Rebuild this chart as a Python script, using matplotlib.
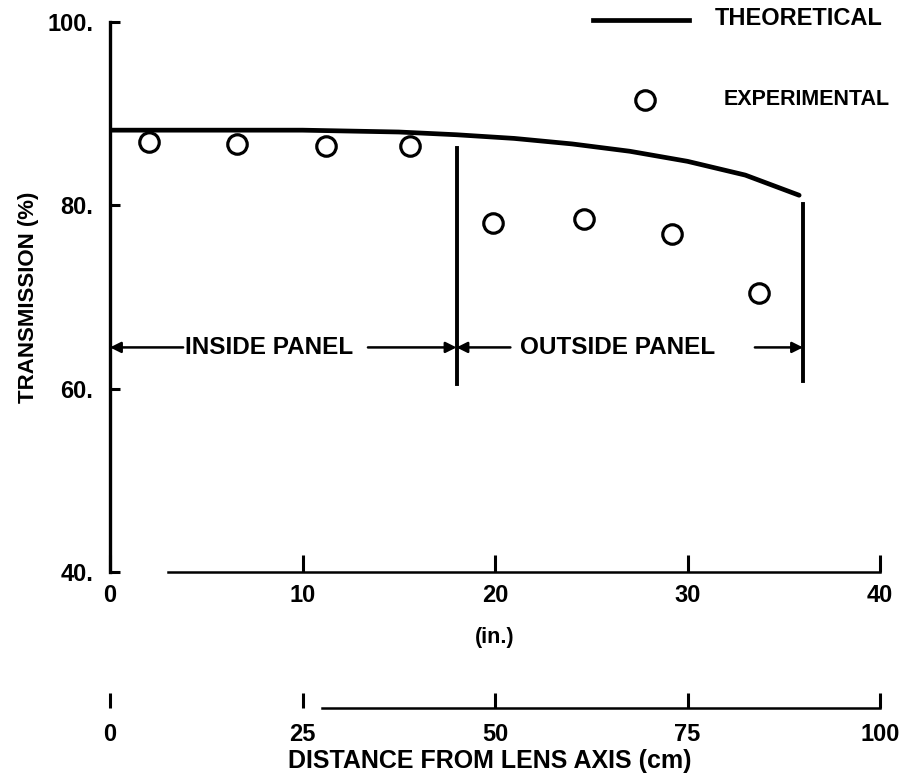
import numpy as np
import matplotlib
matplotlib.use("Agg")
import matplotlib.pyplot as plt

plt.rcParams['font.family'] = ['Liberation Sans', 'DejaVu Sans']
plt.rcParams['font.weight'] = 'bold'

# theoretical transmission curve, x in inches
theory_x = [0, 5, 10, 15, 18, 21, 24, 27, 30, 33, 35.8]
theory_y = [88.2, 88.2, 88.2, 88.0, 87.7, 87.3, 86.7, 85.9, 84.8, 83.3, 81.1]

# experimental points
exp_x = [2.0, 6.6, 11.2, 15.6, 19.9, 24.6, 29.2, 33.7]
exp_y = [86.9, 86.7, 86.5, 86.5, 78.1, 78.5, 76.9, 70.4]

in_ticks = [0, 10, 20, 30, 40]
cm_ticks = [0, 25, 50, 75, 100]
y_ticks = [40, 60, 80, 100]
y_labels = ['40.', '60.', '80.', '100.']

fig = plt.figure(figsize=(9.1, 7.81), dpi=100)
ax = fig.add_axes([110/910, 1 - 572/781, 770/910, 550/781])
ax.set_xlim(0, 40)
ax.set_ylim(40, 100)
ax.patch.set_visible(False)

for s in ['top', 'right']:
    ax.spines[s].set_visible(False)
ax.spines['left'].set_linewidth(2.4)
ax.spines['bottom'].set_linewidth(1.8)
ax.spines['bottom'].set_bounds(3, 40)

ax.set_xticks(in_ticks)
ax.set_xticklabels([str(t) for t in in_ticks])
ax.set_yticks(y_ticks)
ax.set_yticklabels(y_labels)
ax.tick_params(axis='x', direction='in', length=12, width=2.2, pad=9, labelsize=17)
ax.tick_params(axis='y', direction='in', length=7, width=2.2, pad=12, labelsize=17)

# theoretical curve + experimental points
ax.plot(theory_x, theory_y, color='black', lw=3.4, solid_capstyle='round')
ax.plot(exp_x, exp_y, 'o', ms=14, mfc='white', mec='black', mew=2.3, ls='none')

# panel boundaries
ax.plot([18, 18], [60.5, 86.3], color='black', lw=2.8)
ax.plot([36, 36], [60.8, 80.2], color='black', lw=2.8)

# panel arrows
arr = dict(arrowstyle='-|>', lw=1.8, color='black', mutation_scale=16, shrinkA=0, shrinkB=0)
ya = 64.5
ax.annotate('', xy=(0, ya), xytext=(3.8, ya), arrowprops=arr)
ax.annotate('', xy=(18, ya), xytext=(13.4, ya), arrowprops=arr)
ax.annotate('', xy=(18, ya), xytext=(20.8, ya), arrowprops=arr)
ax.annotate('', xy=(36, ya), xytext=(33.5, ya), arrowprops=arr)
ax.text(3.9, ya, 'INSIDE PANEL', fontsize=17.5, fontweight='bold', va='center', ha='left')
ax.text(21.3, ya, 'OUTSIDE PANEL', fontsize=17.5, fontweight='bold', va='center', ha='left')

# legend drawn by hand, like the original
ax.plot([25.1, 30.1], [100.2, 100.2], color='black', lw=3.4, clip_on=False)
ax.text(31.4, 100.4, 'THEORETICAL', fontsize=17, fontweight='bold', va='center', ha='left')
ax.plot([27.8], [91.5], 'o', ms=14, mfc='white', mec='black', mew=2.3, clip_on=False)
ax.text(31.9, 91.5, 'EXPERIMENTAL', fontsize=15.5, fontweight='bold', va='center', ha='left')

ax.set_ylabel('TRANSMISSION (%)', fontsize=16, fontweight='bold', labelpad=6)
fig.text(495/910, 1 - 637/781, '(in.)', fontsize=15.5, fontweight='bold',
         ha='center', va='center')

# second scale in cm
ax2 = fig.add_axes([110/910, 1 - 708/781, 770/910, 0.001])
ax2.set_xlim(0, 100)
ax2.set_yticks([])
for s in ['top', 'right', 'left']:
    ax2.spines[s].set_visible(False)
ax2.spines['bottom'].set_linewidth(1.8)
ax2.spines['bottom'].set_bounds(27.5, 100)
ax2.patch.set_visible(False)
ax2.set_xticks(cm_ticks)
ax2.set_xticklabels([str(t) for t in cm_ticks])
ax2.tick_params(axis='x', direction='in', length=11, width=2.2, pad=11, labelsize=17)
fig.text(490/910, 1 - 761/781, 'DISTANCE FROM LENS AXIS (cm)', fontsize=18,
         fontweight='bold', ha='center', va='center')

fig.savefig('out.png', dpi=100)
